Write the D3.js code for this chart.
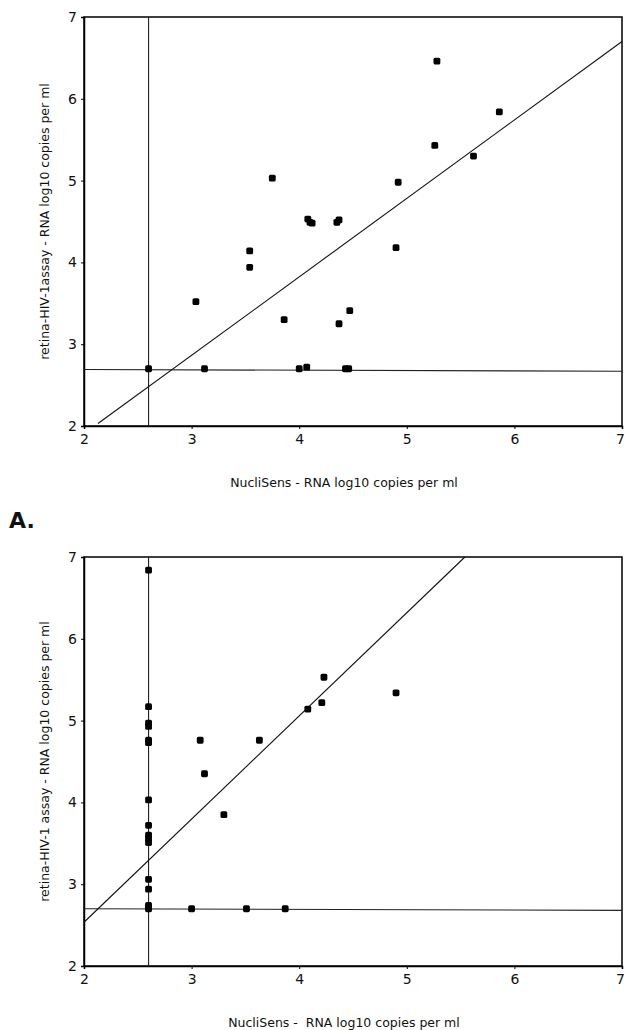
<!DOCTYPE html>
<html>
<head>
<meta charset="utf-8">
<script src="https://cdn.jsdelivr.net/npm/d3@7"></script>
<style>
  body { margin: 0; background: #fff; }
  svg text { font-family: "DejaVu Sans", Verdana, sans-serif; fill: #111; }
</style>
</head>
<body>
<svg id="chart"></svg>
<script>
// axis ticks
var ticks = [2, 3, 4, 5, 6, 7];

// panel 1 (top)
var topX = [2.6, 3.04, 3.12, 3.54, 3.54, 3.75, 3.86, 4.0, 4.07, 4.08, 4.1, 4.12, 4.35, 4.37, 4.37, 4.47, 4.43, 4.46, 4.9, 4.92, 5.26, 5.28, 5.62, 5.86];
var topY = [2.70, 3.52, 2.70, 4.14, 3.94, 5.03, 3.30, 2.70, 2.72, 4.53, 4.49, 4.48, 4.49, 4.52, 3.25, 3.41, 2.70, 2.70, 4.18, 4.98, 5.43, 6.46, 5.30, 5.84];
var topFit = [[2.13, 2.03], [7, 6.70]];
var topCutX = 2.6;
var topCutY = [2.69, 2.67];

// panel 2 (bottom)
var botX = [2.6, 2.6, 2.6, 2.6, 2.6, 2.6, 2.6, 2.6, 2.6, 2.6, 2.6, 2.6, 2.6, 2.6, 2.6, 2.6,
            3.08, 3.63, 4.08, 4.21, 4.23, 4.90, 3.12, 3.30, 3.0, 3.51, 3.87];
var botY = [6.84, 5.17, 4.97, 4.93, 4.76, 4.73, 4.03, 3.72, 3.60, 3.56, 3.51, 3.06, 2.94, 2.74, 2.72, 2.70,
            4.76, 4.76, 5.14, 5.22, 5.53, 5.34, 4.35, 3.85, 2.70, 2.70, 2.70];
var botFit = [[2, 2.535], [5.54, 7]];
var botCutX = 2.6;
var botCutY = [2.70, 2.68];

var screen = {width: 625, height: 1030};
var margins = {left: 84, right: 3};
var graphWidth = screen.width - margins.left - margins.right;
var graphHeight = 409;

var svg = d3.select("#chart")
  .attr("width", screen.width)
  .attr("height", screen.height);

var drawPanel = function(top, xs, ys, fit, cutX, cutY, yTitle, xTitle) {
  var xScale = d3.scaleLinear().domain([2, 7]).range([0, graphWidth]);
  var yScale = d3.scaleLinear().domain([2, 7]).range([graphHeight, 0]);

  var g = svg.append("g")
    .attr("transform", "translate(" + margins.left + "," + top + ")");

  // frame
  g.append("rect")
    .attr("x", 0).attr("y", 0)
    .attr("width", graphWidth).attr("height", graphHeight)
    .attr("fill", "none")
    .attr("stroke", "#000")
    .attr("stroke-width", 1.5);

  var xAxis = d3.axisBottom(xScale).tickValues(ticks).tickSize(3).tickPadding(5).tickFormat(d3.format("d"));
  var yAxis = d3.axisLeft(yScale).tickValues(ticks).tickSize(3).tickPadding(4).tickFormat(d3.format("d"));

  var xg = g.append("g")
    .attr("transform", "translate(0," + graphHeight + ")")
    .call(xAxis);
  var yg = g.append("g").call(yAxis);

  [xg, yg].forEach(function(a) {
    a.select(".domain").attr("stroke", "#000").attr("stroke-width", 1.5);
    a.selectAll(".tick line").attr("stroke", "#000");
    a.selectAll(".tick text")
      .style("font-family", "'DejaVu Sans', Verdana, sans-serif")
      .style("font-size", "14px")
      .attr("fill", "#111");
  });
  // last x label sits at the page edge; pull it in a little
  xg.selectAll(".tick text").filter(function(d) { return d === 7; })
    .attr("dx", -2);

  // cut-off lines
  g.append("line")
    .attr("x1", xScale(cutX)).attr("x2", xScale(cutX))
    .attr("y1", yScale(2)).attr("y2", yScale(7))
    .attr("stroke", "#222").attr("stroke-width", 1.1);
  g.append("line")
    .attr("x1", xScale(2)).attr("x2", xScale(7))
    .attr("y1", yScale(cutY[0])).attr("y2", yScale(cutY[1]))
    .attr("stroke", "#222").attr("stroke-width", 1.1);

  // regression line
  g.append("line")
    .attr("x1", xScale(fit[0][0])).attr("y1", yScale(fit[0][1]))
    .attr("x2", xScale(fit[1][0])).attr("y2", yScale(fit[1][1]))
    .attr("stroke", "#111").attr("stroke-width", 1.1);

  var pts = xs.map(function(d, i) { return {x: d, y: ys[i]}; });
  g.selectAll("rect.pt")
    .data(pts)
    .enter()
    .append("rect")
    .classed("pt", true)
    .attr("x", function(d) { return xScale(d.x) - 3.4; })
    .attr("y", function(d) { return yScale(d.y) - 3.4; })
    .attr("width", 6.8).attr("height", 6.8)
    .attr("rx", 1.6)
    .attr("fill", "#000");

  g.append("text")
    .attr("x", xScale(4.5) - 84 + 75)
    .attr("y", graphHeight + 61)
    .attr("text-anchor", "middle")
    .style("font-size", "12.5px")
    .attr("xml:space", "preserve")
    .text(xTitle);

  g.append("text")
    .attr("transform", "translate(" + (-35) + "," + (graphHeight / 2) + ") rotate(-90)")
    .attr("text-anchor", "middle")
    .style("font-size", "12.5px")
    .text(yTitle);
};

drawPanel(17, topX, topY, topFit, topCutX, topCutY,
  "retina-HIV-1assay - RNA log10 copies per ml",
  "NucliSens - RNA log10 copies per ml");

drawPanel(557, botX, botY, botFit, botCutX, botCutY,
  "retina-HIV-1 assay - RNA log10 copies per ml",
  "NucliSens -  RNA log10 copies per ml");

svg.append("text")
  .attr("x", 9)
  .attr("y", 528)
  .style("font-size", "22px")
  .style("font-weight", "bold")
  .text("A.");
</script>
</body>
</html>
